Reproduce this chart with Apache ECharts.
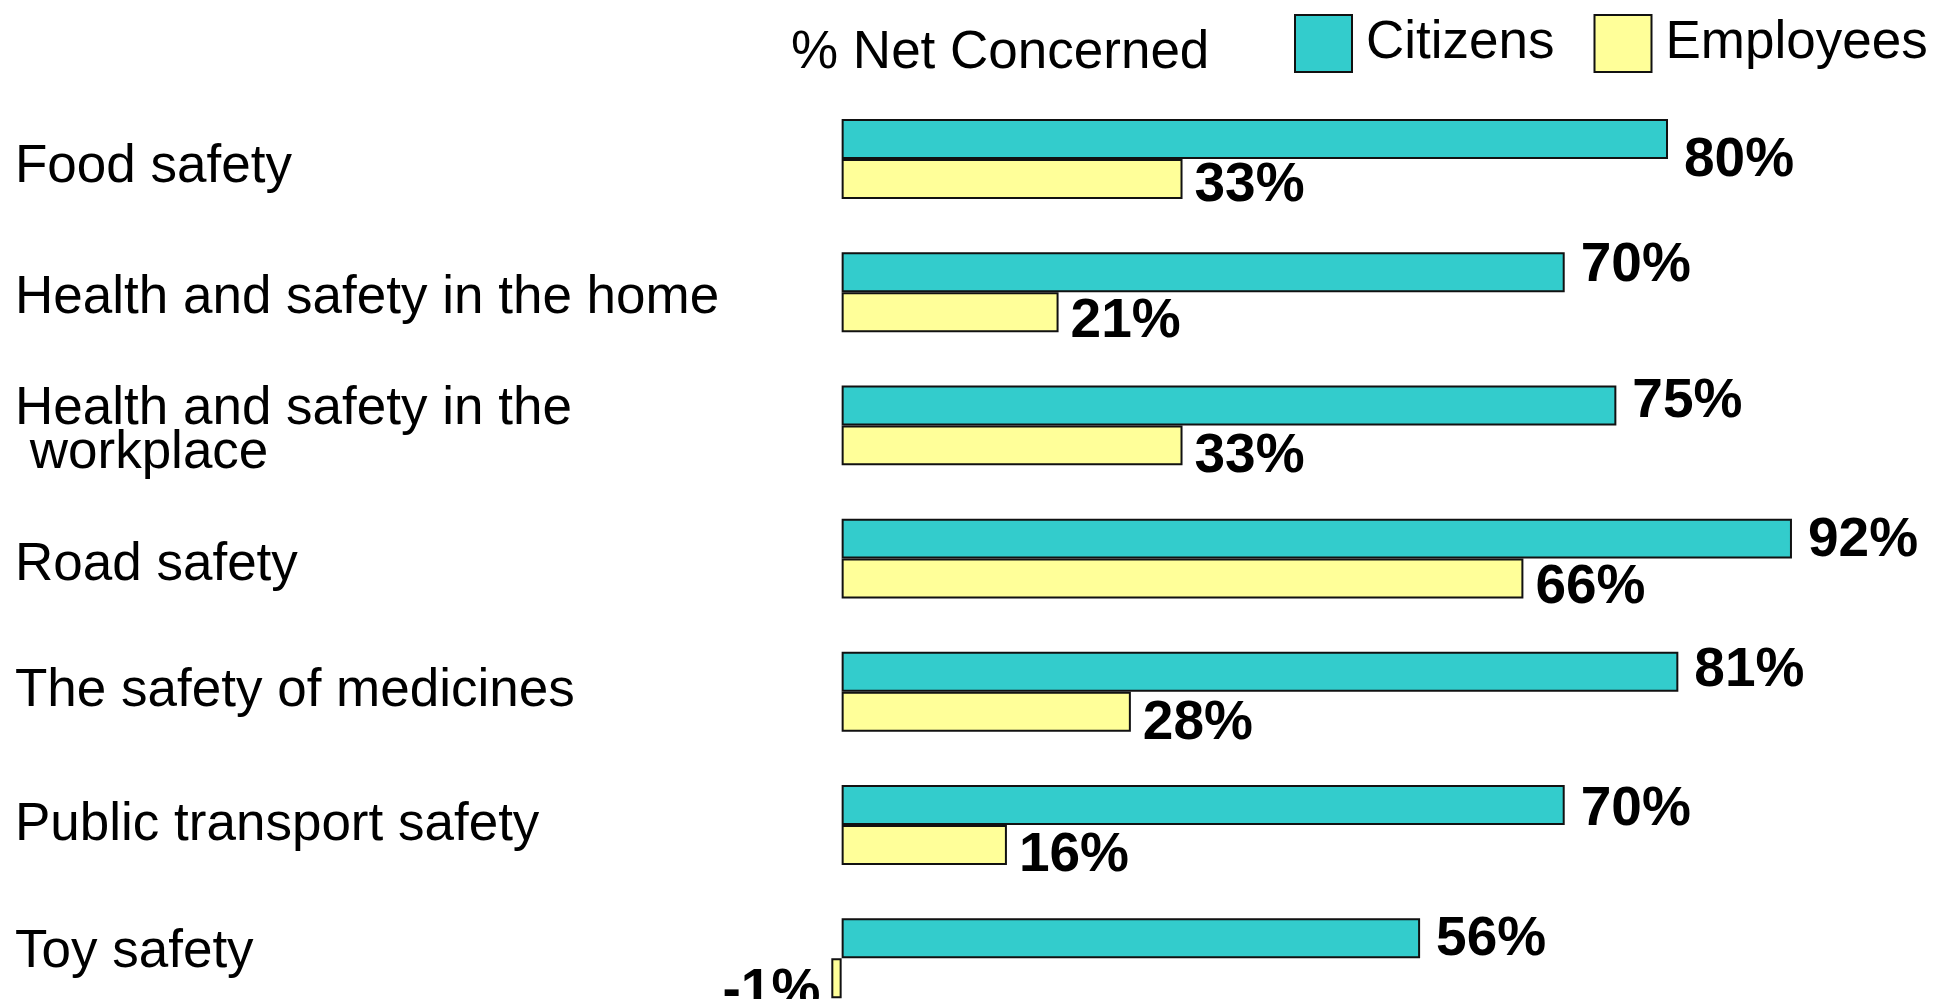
<!DOCTYPE html>
<html>
<head>
<meta charset="utf-8">
<script src="https://cdn.jsdelivr.net/npm/echarts@6/dist/echarts.min.js"></script>
<style>
  html, body { margin: 0; padding: 0; background: #fff; overflow: hidden; }
  /* taller than the window: the last bar is cut off at the bottom edge */
  #chart { width: 1935px; height: 1040px; }
</style>
</head>
<body>
<div id="chart"></div>
<script>
// chart data
var categories = [
  "Food safety",
  "Health and safety in the home",
  "Health and safety in the\n workplace",
  "Road safety",
  "The safety of medicines",
  "Public transport safety",
  "Toy safety"
];
var citizens = [80, 70, 75, 92, 81, 70, 56];
var employees = [33, 21, 33, 66, 28, 16, -1];

var font = "'Liberation Sans', Arial, sans-serif";

var myChart = echarts.init(document.getElementById("chart"));

// labels in the original sit a little off centre, by different amounts
var labelShift = [8, 6, 6, 7, 0, 0, -6];
var citizenDy = [22, -6, -4, 2, -1, 5, 2];
var employeeDy = [7, 10, 11, 9, 12, 11, 14];

var rich = {};
labelShift.forEach(function (s, i) {
  rich["c" + i] = {
    fontFamily: font,
    fontSize: 53,
    lineHeight: 44,
    color: "#000",
    padding: s >= 0 ? [2 * s, 0, 0, 0] : [0, 0, -2 * s, 0]
  };
});

var citizenData = citizens.map(function (v, i) {
  return { value: v, label: { offset: [11, citizenDy[i]] } };
});

// negative values get their label on the left side of the bar
var employeeData = employees.map(function (v, i) {
  if (v < 0) {
    return { value: v, label: { position: "left", offset: [-6, employeeDy[i]] } };
  }
  return { value: v, label: { offset: [7, employeeDy[i]] } };
});

myChart.setOption({
  animation: false,
  backgroundColor: "#fff",
  title: {
    text: "% Net Concerned",
    left: 791,
    top: 27,
    padding: 0,
    textStyle: {
      fontFamily: font,
      fontSize: 53,
      fontWeight: "normal",
      color: "#000"
    }
  },
  legend: {
    left: 1294,
    top: 14,
    padding: 0,
    icon: "rect",
    itemWidth: 57,
    itemHeight: 57,
    itemGap: 39,
    textStyle: {
      fontFamily: font,
      fontSize: 53,
      color: "#000",
      padding: [0, 0, 0, 9]
    },
    data: ["Citizens", "Employees"]
  },
  grid: {
    left: 790,
    top: 92.4,
    width: 1084.6,
    height: 932.4,
    containLabel: false,
    outerBoundsMode: "none"
  },
  xAxis: {
    type: "value",
    min: -5,
    max: 100,
    show: false,
    splitLine: { show: false }
  },
  yAxis: {
    type: "category",
    inverse: true,
    data: categories,
    axisLine: { show: false },
    axisTick: { show: false },
    splitLine: { show: false },
    axisLabel: {
      align: "left",
      margin: 775,
      fontFamily: font,
      fontSize: 53,
      lineHeight: 44,
      color: "#000",
      formatter: function (value, index) {
        return value.split("\n").map(function (line) {
          return "{c" + index + "|" + line + "}";
        }).join("\n");
      },
      rich: rich
    }
  },
  series: [
    {
      name: "Citizens",
      type: "bar",
      data: citizenData,
      barGap: "0%",
      barCategoryGap: "40%",
      itemStyle: {
        color: "#33CCCC",
        borderColor: "#111",
        borderWidth: 2
      },
      label: {
        show: true,
        position: "right",
        formatter: "{c}%",
        fontFamily: font,
        fontSize: 55,
        fontWeight: "bold",
        color: "#000"
      }
    },
    {
      name: "Employees",
      type: "bar",
      data: employeeData,
      itemStyle: {
        color: "#FFFF99",
        borderColor: "#111",
        borderWidth: 2
      },
      label: {
        show: true,
        position: "right",
        formatter: "{c}%",
        fontFamily: font,
        fontSize: 55,
        fontWeight: "bold",
        color: "#000"
      }
    }
  ]
});
</script>
</body>
</html>
